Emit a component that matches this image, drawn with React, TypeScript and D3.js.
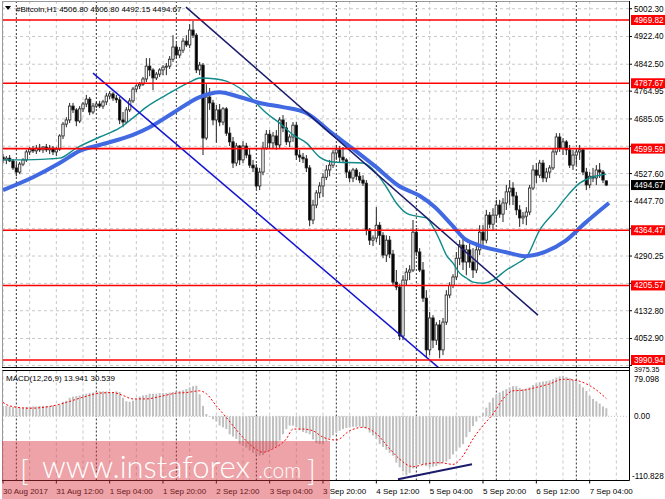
import React from 'react';
import * as d3 from 'd3';

const W = 665;
const H = 499;
const FONT = "'Liberation Sans', Arial, sans-serif";

// H1 bars [open, high, low, close], first bar 30 Aug 2017 20:00
const candles: [number, number, number, number][] = [
  [4575, 4584, 4558, 4567], [4567, 4578, 4555, 4572], [4572, 4581, 4561, 4564], [4564, 4570, 4538, 4544],
  [4544, 4558, 4520, 4532], [4532, 4561, 4526, 4555], [4555, 4572, 4549, 4567], [4567, 4596, 4561, 4590],
  [4590, 4604, 4581, 4598], [4598, 4607, 4587, 4593], [4593, 4610, 4584, 4601], [4601, 4613, 4590, 4596],
  [4596, 4607, 4587, 4604], [4604, 4613, 4590, 4596], [4596, 4610, 4584, 4601], [4601, 4607, 4581, 4590],
  [4590, 4604, 4578, 4598], [4598, 4641, 4593, 4636], [4636, 4676, 4627, 4670], [4670, 4690, 4661, 4682],
  [4682, 4731, 4673, 4722], [4722, 4731, 4702, 4711], [4711, 4716, 4664, 4679], [4679, 4722, 4673, 4714],
  [4714, 4734, 4705, 4728], [4728, 4754, 4719, 4742], [4742, 4748, 4696, 4705], [4705, 4731, 4699, 4722],
  [4722, 4734, 4716, 4728], [4728, 4737, 4716, 4722], [4722, 4740, 4714, 4734], [4734, 4760, 4725, 4751],
  [4751, 4765, 4742, 4757], [4757, 4762, 4737, 4745], [4745, 4754, 4731, 4740], [4740, 4748, 4670, 4682],
  [4682, 4705, 4661, 4676], [4676, 4719, 4670, 4711], [4711, 4745, 4705, 4737], [4737, 4777, 4731, 4771],
  [4771, 4785, 4762, 4780], [4780, 4791, 4771, 4785], [4785, 4806, 4780, 4800], [4800, 4860, 4791, 4837],
  [4837, 4860, 4808, 4826], [4826, 4831, 4768, 4803], [4803, 4820, 4797, 4814], [4814, 4831, 4806, 4826],
  [4826, 4840, 4811, 4834], [4834, 4846, 4811, 4837], [4837, 4866, 4829, 4857], [4857, 4926, 4849, 4892],
  [4892, 4903, 4860, 4869], [4869, 4892, 4860, 4883], [4883, 4918, 4875, 4909], [4909, 4926, 4892, 4898],
  [4898, 4958, 4889, 4941], [4941, 4967, 4918, 4926], [4926, 4932, 4817, 4826], [4826, 4849, 4811, 4840],
  [4840, 4846, 4581, 4630], [4630, 4785, 4624, 4748], [4748, 4774, 4711, 4731], [4731, 4740, 4667, 4682],
  [4682, 4725, 4616, 4711], [4711, 4728, 4664, 4676], [4676, 4719, 4667, 4714], [4714, 4719, 4636, 4644],
  [4644, 4661, 4607, 4619], [4619, 4633, 4544, 4558], [4558, 4616, 4549, 4607], [4607, 4610, 4552, 4567],
  [4567, 4621, 4558, 4607], [4607, 4616, 4572, 4581], [4581, 4601, 4544, 4552], [4552, 4567, 4532, 4544],
  [4544, 4555, 4483, 4492], [4492, 4544, 4480, 4532], [4532, 4619, 4523, 4601], [4601, 4653, 4596, 4641],
  [4641, 4653, 4601, 4616], [4616, 4647, 4601, 4636], [4636, 4653, 4596, 4610], [4610, 4690, 4601, 4682],
  [4682, 4696, 4647, 4659], [4659, 4676, 4610, 4619], [4619, 4641, 4604, 4633], [4633, 4676, 4619, 4667],
  [4667, 4676, 4567, 4581], [4581, 4596, 4561, 4575], [4575, 4587, 4558, 4570], [4570, 4581, 4532, 4544],
  [4544, 4552, 4376, 4394], [4394, 4452, 4382, 4437], [4437, 4480, 4428, 4472], [4472, 4503, 4457, 4492],
  [4492, 4529, 4460, 4517], [4517, 4552, 4509, 4538], [4538, 4567, 4520, 4552], [4552, 4596, 4544, 4587],
  [4587, 4610, 4567, 4596], [4596, 4607, 4561, 4575], [4575, 4604, 4558, 4567], [4567, 4572, 4515, 4532],
  [4532, 4538, 4503, 4515], [4515, 4544, 4503, 4538], [4538, 4544, 4509, 4520], [4520, 4532, 4500, 4509],
  [4509, 4523, 4492, 4500], [4500, 4509, 4350, 4365], [4365, 4371, 4322, 4336], [4336, 4350, 4319, 4342],
  [4342, 4431, 4330, 4379], [4379, 4388, 4322, 4350], [4350, 4359, 4284, 4293], [4293, 4350, 4273, 4336],
  [4336, 4348, 4284, 4296], [4296, 4308, 4206, 4215], [4215, 4250, 4192, 4201], [4201, 4209, 4048, 4060],
  [4060, 4235, 4048, 4221], [4221, 4256, 4206, 4244], [4244, 4264, 4221, 4250], [4250, 4394, 4244, 4359],
  [4359, 4371, 4290, 4302], [4302, 4313, 4244, 4250], [4250, 4273, 4158, 4169], [4169, 4192, 3999, 4020],
  [4020, 4129, 4005, 4112], [4112, 4120, 4025, 4048], [4048, 4100, 4034, 4092], [4092, 4106, 3996, 4020],
  [4020, 4112, 4005, 4100], [4100, 4192, 4092, 4178], [4178, 4215, 4169, 4206], [4206, 4238, 4198, 4230],
  [4230, 4302, 4221, 4284], [4284, 4336, 4264, 4322], [4322, 4342, 4250, 4273], [4273, 4322, 4235, 4308],
  [4308, 4330, 4256, 4273], [4273, 4313, 4227, 4250], [4250, 4322, 4241, 4308], [4308, 4379, 4293, 4359],
  [4359, 4379, 4322, 4336], [4336, 4423, 4327, 4408], [4408, 4417, 4371, 4382], [4382, 4428, 4365, 4408],
  [4408, 4452, 4388, 4437], [4437, 4452, 4400, 4411], [4411, 4457, 4388, 4443], [4443, 4495, 4423, 4475],
  [4475, 4509, 4437, 4486], [4486, 4503, 4437, 4463], [4463, 4475, 4408, 4423], [4423, 4437, 4374, 4400],
  [4400, 4417, 4382, 4405], [4405, 4431, 4379, 4417], [4417, 4495, 4408, 4486], [4486, 4552, 4480, 4538],
  [4538, 4558, 4500, 4523], [4523, 4567, 4515, 4558], [4558, 4567, 4503, 4515], [4515, 4544, 4503, 4532],
  [4532, 4552, 4515, 4544], [4544, 4601, 4538, 4590], [4590, 4644, 4581, 4633], [4633, 4644, 4590, 4601],
  [4601, 4630, 4581, 4619], [4619, 4624, 4581, 4596], [4596, 4610, 4544, 4552], [4552, 4596, 4538, 4581],
  [4581, 4601, 4552, 4590], [4590, 4610, 4567, 4596], [4596, 4601, 4523, 4532], [4532, 4544, 4480, 4495],
  [4495, 4532, 4486, 4520], [4520, 4544, 4503, 4515], [4515, 4552, 4495, 4538], [4538, 4558, 4515, 4532],
  [4532, 4538, 4500, 4509], [4506.8, 4506.8, 4492.15, 4494.67],
];

// moving averages, read as [bar index, price]
const tealMA: [number, number][] = [
  [0, 4567], [5, 4567], [14, 4570], [17, 4572], [22, 4601], [29, 4633], [35, 4659], [39, 4688],
  [43, 4719], [49, 4754], [56, 4791], [59, 4803], [64, 4800], [67, 4794], [71, 4774], [75, 4740],
  [79, 4702], [83, 4673], [87, 4639], [91, 4616], [95, 4575], [99, 4561], [108, 4558], [112, 4529],
  [115, 4489], [118, 4443], [121, 4414], [124, 4405], [127, 4400], [129, 4374], [131, 4336], [133, 4293],
  [135, 4270], [137, 4241], [139, 4227], [141, 4215], [144, 4212], [147, 4221], [151, 4250], [155, 4273],
  [157, 4287], [161, 4365], [166, 4423], [169, 4460], [173, 4500], [176, 4515], [179, 4523], [181, 4526],
];
const blueMA: [number, number][] = [
  [0, 4480], [9, 4517], [17, 4558], [23, 4593], [29, 4610], [39, 4639], [44, 4661], [51, 4702],
  [59, 4748], [65, 4762], [71, 4748], [77, 4731], [84, 4719], [91, 4702], [98.7, 4644], [104.7, 4601],
  [111.6, 4549], [118.8, 4492], [125.1, 4463], [129.6, 4431], [134.7, 4379], [138.6, 4339], [142.5, 4322],
  [146.7, 4310], [150.6, 4302], [156.6, 4290], [162.6, 4302], [168.6, 4333], [174.6, 4385], [181.8, 4443],
];

// hand-drawn trendlines [bar index, price]
const trendNavy: [number, number][] = [[54.9, 5007], [160.5, 4120]];
const trendBlue: [number, number][] = [[27, 4817], [130.8, 3968]];

const levels = [4969.82, 4787.67, 4599.59, 4364.47, 4205.57, 3990.94];
const lastPrice = 4494.67;
// grid rows; the ones under the level boxes carry no visible label
const priceTicks = [5002.30, 4922.40, 4842.50, 4764.95, 4685.05, 4606.30, 4527.60, 4447.70, 4369.00, 4290.25, 4211.50, 4132.80, 4052.90, 3975.35];
const priceLabels = [5002.30, 4922.40, 4842.50, 4764.95, 4685.05, 4527.60, 4447.70, 4290.25, 4132.80, 4052.90];
const bottomTick = 3975.35;
const timeLabels = ['30 Aug 2017', '31 Aug 12:00', '1 Sep 04:00', '1 Sep 20:00', '2 Sep 12:00', '3 Sep 04:00',
  '3 Sep 20:00', '4 Sep 12:00', '5 Sep 04:00', '5 Sep 20:00', '6 Sep 12:00', '7 Sep 04:00'];

// MACD(12,26,9) main line per bar
const macdHist = [
  18, 18, 17, 16, 16, 15, 15, 16, 16, 17, 17, 18, 18, 18, 18, 19, 19, 20, 25, 27,
  32, 34, 35, 36, 38, 39, 40, 41, 42, 43, 43, 43, 42, 42, 43, 42, 32, 26, 25, 27,
  30, 34, 36, 37, 39, 39, 39, 40, 40, 40, 41, 42, 43, 44, 45, 47, 50, 52, 53, 38,
  18, 4, -1, -5, -9, -16, -19, -22, -31, -35, -39, -48, -51, -54, -59, -63, -66, -68, -67, -62,
  -58, -55, -52, -42, -31, -22, -16, -16, -19, -24, -27, -29, -31, -40, -46, -48, -47, -43, -38, -33,
  -28, -25, -22, -20, -19, -18, -18, -18, -19, -21, -28, -33, -39, -48, -53, -58, -63, -68, -80, -88,
  -95, -102, -98, -90, -86, -83, -84, -86, -88, -87, -86, -83, -80, -78, -74, -66, -60, -54, -48, -36,
  -27, -17, -9, -2, 6, 15, 24, 32, 37, 41, 44, 47, 50, 52, 52, 49, 47, 48, 50, 54,
  57, 59, 60, 61, 62, 64, 67, 69, 70, 68, 66, 63, 61, 56, 50, 44, 35, 30, 26, 22,
  17, 13.941,
];
// signal line, read as [bar index, value]
const signalPts: [number, number][] = [
  [0, 24], [2, 18], [8, 14], [14, 17], [19, 24], [24, 33], [29, 40], [33, 41], [36, 36], [39, 30],
  [43, 30], [47, 34], [52, 40], [55, 41], [59, 44], [61, 39], [64, 18], [67, -2], [71, -30], [75, -53],
  [78, -62], [81, -56], [85, -39], [87, -22], [90, -22], [93, -25], [96, -36], [100, -41], [104, -25],
  [108, -19], [112, -30], [116, -56], [119, -74], [123, -87], [127, -82], [131, -80], [135, -83], [138, -68],
  [141, -39], [144, -16], [147, 4], [150, 30], [153, 44], [156, 45], [160, 50], [164, 56], [168, 64],
  [172, 62], [176, 53], [180, 36], [181, 30.539],
];
const macdTrend: [number, number][] = [[118.5, -108.8], [140.7, -82.9]];

const PL = 2, PR = 629, PT = 1, PB = 367;
const MT = 370.5, MB = 480.5;

export default function App() {
  const x = d3.scaleLinear().domain([0, 24]).range([3, 83]);
  const y = d3.scaleLinear().domain([3990.94, 4969.82]).range([360, 20]);
  const ym = d3.scaleLinear().domain([-110.828, 79.098]).range([MB, MT]);

  const maLine = d3.line<[number, number]>().x(d => x(d[0])).y(d => y(d[1])).curve(d3.curveMonotoneX);
  const sigLine = d3.line<[number, number]>().x(d => x(d[0])).y(d => ym(d[1])).curve(d3.curveMonotoneX);
  const straight = d3.line<[number, number]>().x(d => x(d[0])).y(d => y(d[1]));
  const straightM = d3.line<[number, number]>().x(d => x(d[0])).y(d => ym(d[1]));

  const gridX = d3.range(0, 186, 8);
  const daySep = d3.range(4, 186, 24);
  const fmt = d3.format('.2f');

  return (
    <svg width={W} height={H} viewBox={`0 0 ${W} ${H}`}
      style={{ position: 'absolute', left: 0, top: 0, display: 'block', background: '#fff' }}>
      <defs>
        <clipPath id="mainClip"><rect x={PL} y={PT} width={PR - PL} height={PB - PT} /></clipPath>
        <clipPath id="macdClip"><rect x={PL} y={MT} width={PR - PL} height={MB - MT} /></clipPath>
      </defs>
      <rect x={0} y={0} width={W} height={H} fill="#fff" />

      {/* vertical grid, both panes */}
      {gridX.map(i => (
        <g key={'gx' + i}>
          <line x1={x(i)} x2={x(i)} y1={PT} y2={PB} stroke="#c8c8c8" strokeDasharray="3,3" />
          <line x1={x(i)} x2={x(i)} y1={MT} y2={MB} stroke="#c8c8c8" strokeDasharray="3,3" />
        </g>
      ))}
      {priceTicks.map(p => (
        <line key={'gy' + p} x1={PL} x2={PR} y1={y(p)} y2={y(p)} stroke="#c8c8c8" strokeDasharray="3,3" />
      ))}
      {daySep.map(i => (
        <g key={'ds' + i}>
          <line x1={x(i)} x2={x(i)} y1={PT} y2={PB} stroke="#333" strokeDasharray="2,2" />
          <line x1={x(i)} x2={x(i)} y1={MT} y2={MB} stroke="#333" strokeDasharray="2,2" />
        </g>
      ))}

      {/* main pane */}
      <g clipPath="url(#mainClip)">
        <line x1={PL} x2={PR} y1={y(lastPrice)} y2={y(lastPrice)} stroke="#c0c0c0" />
        {candles.map(([o, h, l, c], i) => {
          const cx = x(i);
          const top = y(Math.max(o, c));
          const bot = y(Math.min(o, c));
          return (
            <g key={'c' + i}>
              <line x1={cx} x2={cx} y1={y(h)} y2={y(l)} stroke="#222" strokeWidth={1} />
              <rect x={cx - 1.2} y={top} width={2.4} height={Math.max(bot - top, 0.8)}
                fill={c >= o ? '#f4f4f4' : '#000'} stroke="#222" strokeWidth={0.8} />
            </g>
          );
        })}
        <path d={maLine(tealMA) || ''} fill="none" stroke="#108a8a" strokeWidth={1.4} />
        <path d={maLine(blueMA) || ''} fill="none" stroke="#4169e1" strokeWidth={4} strokeLinejoin="round" />
        <path d={straight(trendNavy) || ''} fill="none" stroke="#1b1b6b" strokeWidth={1.5} />
        <path d={straight(trendBlue) || ''} fill="none" stroke="#1414d2" strokeWidth={1.5} />
        {levels.map(p => (
          <line key={'lv' + p} x1={PL} x2={PR} y1={y(p)} y2={y(p)} stroke="#ff0000" strokeWidth={1.6} />
        ))}
      </g>

      {/* MACD pane */}
      <g clipPath="url(#macdClip)">
        <line x1={PL} x2={PR} y1={ym(0)} y2={ym(0)} stroke="#c0c0c0" strokeDasharray="1,2" />
        {macdHist.map((v, i) => (
          <rect key={'h' + i} x={x(i) - 1} y={Math.min(ym(v), ym(0))} width={2}
            height={Math.abs(ym(v) - ym(0))} fill="#c0c0c0" />
        ))}
        <path d={sigLine(signalPts) || ''} fill="none" stroke="#ff0000" strokeWidth={1} strokeDasharray="2,2" />
        <path d={straightM(macdTrend) || ''} fill="none" stroke="#1b1b6b" strokeWidth={2} />
      </g>

      {/* frames */}
      <line x1={PL + 0.5} x2={PL + 0.5} y1={PT} y2={PB} stroke="#999" />
      <line x1={PL} x2={PR} y1={PT + 0.5} y2={PT + 0.5} stroke="#999" />
      <line x1={PR + 0.5} x2={PR + 0.5} y1={PT} y2={MB} stroke="#000" />
      <line x1={PL} x2={PR} y1={PB + 0.5} y2={PB + 0.5} stroke="#000" />
      <line x1={PL} x2={PR} y1={MT} y2={MT} stroke="#000" />
      <line x1={PL + 0.5} x2={PL + 0.5} y1={MT} y2={MB} stroke="#999" />
      <line x1={PL} x2={PR + 0.5} y1={MB} y2={MB} stroke="#000" />

      {/* price axis */}
      <g fontFamily={FONT} fontSize={8.2} fill="#000">
        {priceTicks.map(p => (
          <line key={'tk' + p} x1={PR} x2={PR + 3} y1={y(p)} y2={y(p)} stroke="#000" />
        ))}
        {priceLabels.map(p => (
          <text key={'pt' + p} x={634} y={y(p) + 3}>{fmt(p)}</text>
        ))}
        <text x={634} y={y(bottomTick) + 6.8} fontSize={7}>{fmt(bottomTick)}</text>
        {levels.map(p => (
          <g key={'lb' + p}>
            <rect x={631} y={y(p) - 5} width={34} height={10} fill="#ff0000" />
            <text x={634} y={y(p) + 3} fill="#fff">{fmt(p)}</text>
          </g>
        ))}
        <rect x={631} y={y(lastPrice) - 5} width={34} height={10} fill="#000" />
        <text x={634} y={y(lastPrice) + 3} fill="#fff">{fmt(lastPrice)}</text>

        <text x={634} y={ym(79.098) + 11}>79.098</text>
        <text x={634} y={ym(0) + 3}>0.00</text>
        <text x={632} y={ym(-110.828) - 2}>-110.828</text>
      </g>

      {/* time axis */}
      <g fontFamily={FONT} fontSize={8} fill="#000">
        {timeLabels.map((t, k) => (
          <g key={'tl' + k}>
            <line x1={x(k * 16)} x2={x(k * 16)} y1={MB} y2={MB + 3} stroke="#000" />
            <text x={x(k * 16)} y={494}>{t}</text>
          </g>
        ))}
      </g>

      {/* titles */}
      <path d="M5,6 L11,6 L8,10 Z" fill="#000" />
      <text x={16} y={12} fontFamily={FONT} fontSize={8} fill="#000">#Bitcoin,H1  4506.80 4506.80 4492.15 4494.67</text>
      <text x={6} y={381} fontFamily={FONT} fontSize={8} fill="#000">MACD(12,26,9) 13.941 30.539</text>

      {/* watermark */}
      <rect x={2} y={441} width={328} height={58} fill="rgba(215,50,60,0.45)" />
      <g fontFamily="Lato, 'Open Sans', sans-serif" fontWeight={300} fill="#fff">
        <text x={20} y={481} fontSize={30}>[</text>
        <text x={42} y={478} fontSize={31}>www.instaforex</text>
        <text x={258} y={478} fontSize={21}>.com</text>
        <text x={307} y={481} fontSize={30}>]</text>
      </g>
    </svg>
  );
}
